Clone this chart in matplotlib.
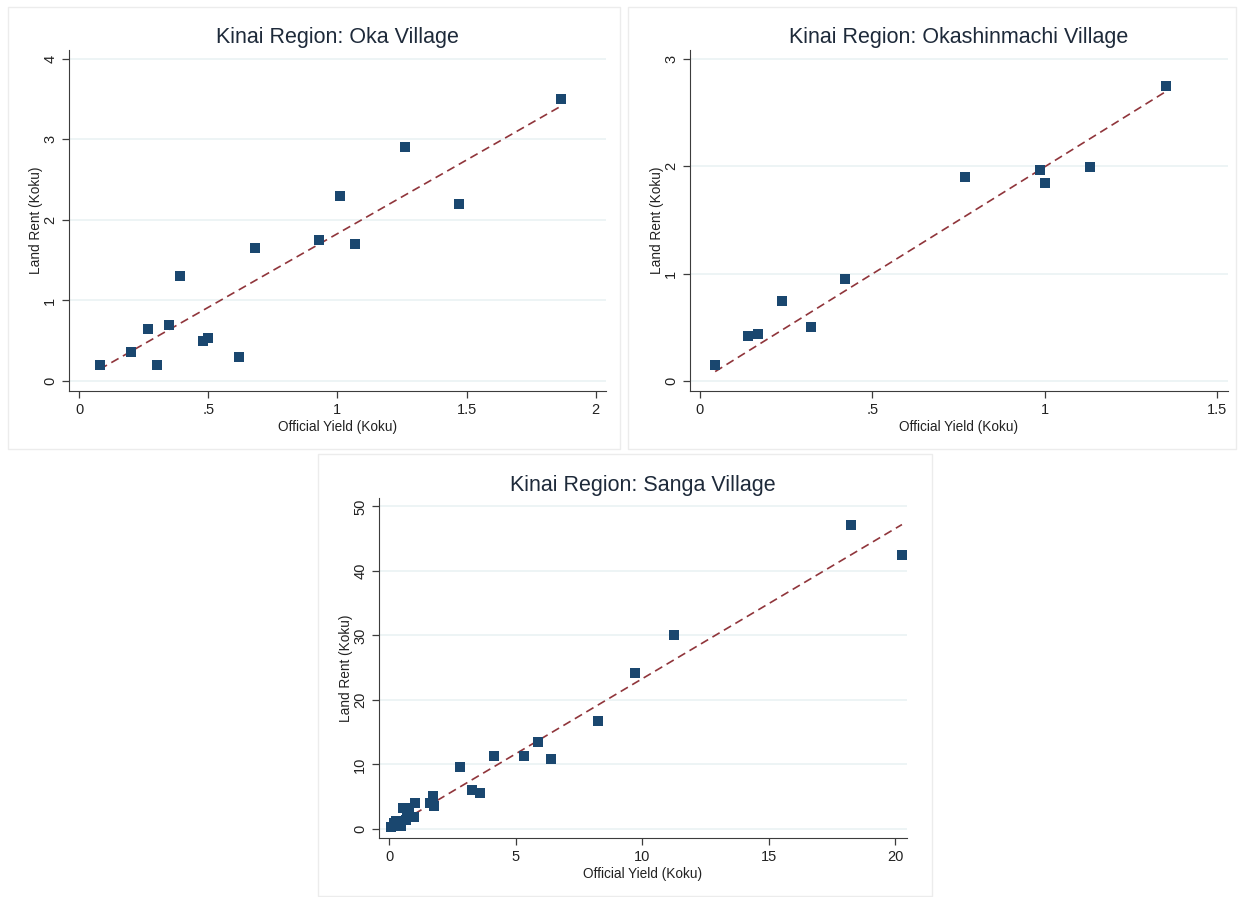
import numpy as np
import matplotlib
matplotlib.use('Agg')
import matplotlib.pyplot as plt
from matplotlib.patches import Rectangle
from matplotlib.ticker import FuncFormatter

plt.rcParams['font.family'] = ['Liberation Sans', 'DejaVu Sans']

# -------------------------------
# Data
# -------------------------------
oka_yield = [0.08, 0.20, 0.265, 0.30, 0.35, 0.39, 0.48, 0.50, 0.62, 0.68,
             0.93, 1.01, 1.07, 1.26, 1.47, 1.865]
oka_rent = [0.20, 0.36, 0.65, 0.20, 0.70, 1.30, 0.50, 0.53, 0.30, 1.65,
            1.75, 2.30, 1.70, 2.90, 2.20, 3.50]

okashin_yield = [0.044, 0.139, 0.167, 0.237, 0.323, 0.42, 0.768, 0.986,
                 1.001, 1.131, 1.353]
okashin_rent = [0.15, 0.42, 0.44, 0.75, 0.50, 0.95, 1.90, 1.97, 1.85, 1.99,
                2.745]

sanga_yield = [0.09, 0.18, 0.26, 0.48, 0.65, 0.71, 0.55, 0.79, 1.03, 1.00,
               1.73, 1.62, 1.79, 2.82, 3.26, 3.58, 4.16, 5.33, 5.89, 6.39,
               8.24, 9.70, 11.28, 18.24, 20.27]
sanga_rent = [0.36, 0.90, 1.24, 0.47, 1.40, 2.00, 3.20, 3.20, 4.10, 1.90,
              5.10, 4.10, 3.60, 9.67, 6.05, 5.53, 11.32, 11.27, 13.55, 10.86,
              16.80, 24.25, 30.04, 47.05, 42.45]

W, H = 1238, 897
fig = plt.figure(figsize=(W / 100, H / 100), dpi=100)

navy = '#1a476f'
maroon = '#90353b'
grid_col = '#eaf2f3'
axis_col = '#3c3c3c'


def stata_fmt(v, pos):
    s = '%g' % v
    if s.startswith('0.'):
        s = s[1:]
    return s


def px_rect(x0, y0, x1, y1):
    # pixel box (top-left origin) -> figure fraction
    return [x0 / W, 1 - y1 / H, (x1 - x0) / W, (y1 - y0) / H]


def panel(frame, box, x, y, title, xlim, ylim, xticks, yticks):
    fx0, fy0, fx1, fy1 = frame
    fig.patches.append(Rectangle((fx0 / W, 1 - fy1 / H), (fx1 - fx0) / W,
                                 (fy1 - fy0) / H, transform=fig.transFigure,
                                 facecolor='none', edgecolor='#ececec',
                                 linewidth=1, zorder=-1))
    ax = fig.add_axes(px_rect(*box))
    ax.patch.set_alpha(0)
    for yt in yticks:
        ax.axhline(yt, color=grid_col, linewidth=1.2, zorder=0)
    # fitted line through the origin (no constant)
    xa = np.array(x)
    ya = np.array(y)
    b = (xa * ya).sum() / (xa * xa).sum()
    xs = np.array([xa.min(), xa.max()])
    ax.plot(xs, b * xs, color=maroon, linestyle=(0, (5, 3)),
            linewidth=1.2, zorder=2)
    ax.scatter(x, y, marker='s', s=60, color=navy, zorder=3, linewidths=0)
    ax.set_xlim(*xlim)
    ax.set_ylim(*ylim)
    ax.set_xticks(xticks)
    ax.set_yticks(yticks)
    ax.xaxis.set_major_formatter(FuncFormatter(stata_fmt))
    ax.yaxis.set_major_formatter(FuncFormatter(stata_fmt))
    ax.tick_params(axis='both', direction='out', length=5, width=0.9,
                   color=axis_col, labelsize=10.5, labelcolor='#222222')
    for lab in ax.get_yticklabels():
        lab.set_rotation(90)
        lab.set_va('center')
    ax.spines['top'].set_visible(False)
    ax.spines['right'].set_visible(False)
    ax.spines['left'].set_color(axis_col)
    ax.spines['bottom'].set_color(axis_col)
    ax.set_xlabel('Official Yield (Koku)', fontsize=9.8, labelpad=2,
                  color='#222222')
    ax.set_ylabel('Land Rent (Koku)', fontsize=9.8, labelpad=0,
                  color='#222222')
    ax.set_title(title, fontsize=15.5, color='#1e2a3a', pad=5)
    return ax


panel((8, 7, 620, 449), (69, 50, 606, 391), oka_yield, oka_rent,
      'Kinai Region: Oka Village', (-0.039, 2.04), (-0.124, 4.11),
      [0, 0.5, 1, 1.5, 2], [0, 1, 2, 3, 4])

panel((628, 7, 1236, 449), (690, 50, 1228, 391), okashin_yield, okashin_rent,
      'Kinai Region: Okashinmachi Village', (-0.029, 1.532), (-0.093, 3.085),
      [0, 0.5, 1, 1.5], [0, 1, 2, 3])

panel((318, 454, 932, 896), (379, 498, 907, 838), sanga_yield, sanga_rent,
      'Kinai Region: Sanga Village', (-0.4, 20.47), (-1.4, 51.3),
      [0, 5, 10, 15, 20], [0, 10, 20, 30, 40, 50])

fig.savefig('out.png', dpi=100)
